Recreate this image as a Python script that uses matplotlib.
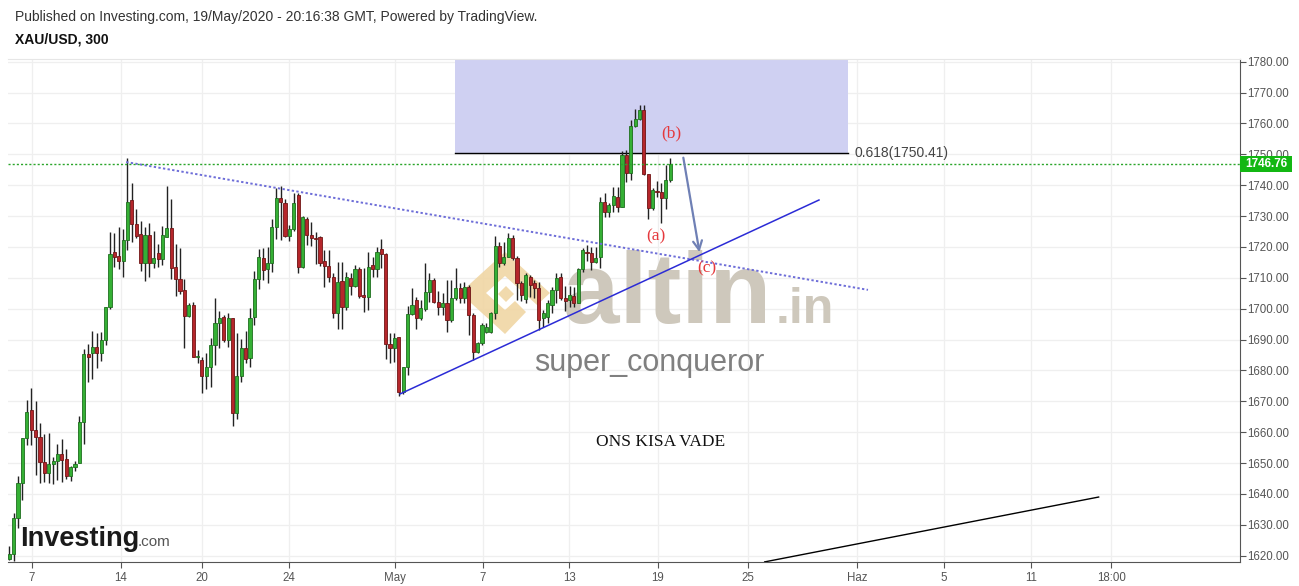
import numpy as np
import matplotlib
matplotlib.use("Agg")
import matplotlib.pyplot as plt
from matplotlib.patches import Rectangle, Polygon
from matplotlib.transforms import blended_transform_factory

plt.rcParams["font.family"] = ["Liberation Sans", "DejaVu Sans"]

# XAU/USD 300-minute candles (open, high, low, close)
opens = [
    1618.8, 1620.4, 1632.3, 1643.4, 1658.0, 1667.2, 1660.7, 1658.3, 1650.5, 1646.9,
    1649.7, 1650.7, 1652.9, 1651.2, 1645.8, 1648.6, 1649.9, 1663.2, 1685.3, 1685.5,
    1687.7, 1685.5, 1689.7, 1700.7, 1718.3, 1717.1, 1715.6, 1722.3, 1735.2, 1727.4,
    1724.2, 1714.9, 1723.9, 1714.7, 1717.9, 1716.0, 1723.3, 1726.0, 1713.6, 1709.5,
    1706.1, 1697.7, 1701.2, 1684.5, 1683.4, 1678.2, 1681.0, 1688.2, 1695.5, 1697.4,
    1689.9, 1696.9, 1666.3, 1678.2, 1687.2, 1683.9, 1697.2, 1709.5, 1716.3, 1712.7,
    1714.7, 1726.3, 1735.7, 1734.1, 1723.5, 1725.7, 1736.8, 1713.4, 1728.9, 1723.9,
    1722.8, 1723.1, 1715.5, 1713.8, 1710.4, 1698.5, 1709.1, 1700.4, 1709.8, 1707.4,
    1712.7, 1704.4, 1703.9, 1714.2, 1712.7, 1719.2, 1717.7, 1688.6, 1687.2, 1690.7,
    1673.1, 1681.2, 1698.3, 1702.8, 1696.9, 1699.8, 1705.5, 1709.3, 1702.3, 1700.7,
    1701.8, 1696.3, 1703.4, 1706.6, 1703.4, 1707.1, 1698.0, 1686.1, 1688.8, 1692.6,
    1692.6, 1698.5, 1720.3, 1714.7, 1716.9, 1722.8, 1716.3, 1708.2, 1703.0, 1710.4,
    1708.2, 1706.6, 1696.9, 1697.4, 1701.2, 1706.1, 1710.2, 1703.4, 1702.8, 1704.1,
    1701.7, 1712.7, 1718.5, 1717.9, 1715.2, 1716.9, 1734.7, 1731.4, 1733.6, 1736.3,
    1733.0, 1749.8, 1743.8, 1759.2, 1761.3, 1764.4, 1743.6, 1732.5, 1738.2, 1737.9,
    1735.7, 1741.7,
]
highs = [
    1623.1, 1633.7, 1645.8, 1658.0, 1670.4, 1674.2, 1670.2, 1663.1, 1659.4, 1659.6,
    1652.1, 1656.1, 1657.7, 1654.4, 1649.1, 1650.8, 1665.4, 1686.8, 1688.6, 1692.9,
    1692.2, 1692.6, 1700.7, 1725.0, 1724.4, 1726.6, 1725.7, 1748.7, 1740.8, 1732.2,
    1728.5, 1726.6, 1727.9, 1725.3, 1721.0, 1726.8, 1739.7, 1735.4, 1721.0, 1719.5,
    1709.5, 1701.9, 1702.3, 1686.6, 1684.5, 1685.5, 1690.4, 1703.4, 1699.4, 1697.9,
    1698.5, 1696.9, 1692.2, 1690.1, 1692.9, 1700.1, 1712.3, 1719.2, 1719.5, 1720.1,
    1728.9, 1739.0, 1739.7, 1735.4, 1727.1, 1737.4, 1737.4, 1730.0, 1729.6, 1728.2,
    1725.0, 1723.5, 1719.0, 1719.0, 1711.5, 1715.2, 1715.2, 1712.0, 1711.5, 1714.2,
    1713.6, 1713.1, 1718.5, 1716.9, 1720.1, 1722.5, 1717.9, 1692.0, 1692.0, 1690.9,
    1681.2, 1700.9, 1706.6, 1703.9, 1702.8, 1714.7, 1711.7, 1709.8, 1705.8, 1705.0,
    1709.3, 1709.3, 1713.1, 1708.4, 1708.8, 1707.7, 1698.5, 1689.3, 1695.3, 1695.3,
    1699.0, 1723.5, 1721.7, 1721.7, 1724.4, 1723.9, 1717.0, 1709.0, 1711.5, 1710.9,
    1709.3, 1708.8, 1699.6, 1702.8, 1707.1, 1711.7, 1711.5, 1707.3, 1707.3, 1707.1,
    1713.1, 1719.5, 1720.6, 1720.1, 1720.1, 1736.3, 1737.4, 1734.1, 1739.5, 1739.5,
    1751.2, 1751.4, 1761.1, 1764.6, 1766.0, 1766.0, 1743.6, 1739.0, 1741.4, 1740.8,
    1746.5, 1748.7,
]
lows = [
    1618.5, 1618.4, 1629.1, 1638.0, 1656.0, 1656.0, 1646.1, 1643.7, 1644.0, 1643.7,
    1643.1, 1644.5, 1644.0, 1645.0, 1644.3, 1647.5, 1649.9, 1656.2, 1676.4, 1677.1,
    1680.7, 1683.2, 1688.2, 1699.8, 1713.4, 1713.0, 1710.4, 1719.0, 1721.7, 1722.8,
    1712.3, 1709.1, 1710.4, 1713.1, 1713.4, 1714.2, 1723.1, 1709.5, 1704.1, 1704.8,
    1687.2, 1697.4, 1684.5, 1682.3, 1672.8, 1673.9, 1674.5, 1681.8, 1687.2, 1689.3,
    1687.5, 1662.0, 1664.2, 1676.4, 1682.5, 1681.2, 1694.7, 1706.3, 1709.3, 1708.4,
    1712.0, 1722.5, 1722.2, 1723.3, 1722.0, 1725.3, 1711.7, 1713.1, 1720.6, 1720.3,
    1714.5, 1713.8, 1707.1, 1708.7, 1696.9, 1693.3, 1693.3, 1699.5, 1704.4, 1707.0,
    1703.4, 1699.0, 1699.6, 1710.4, 1710.4, 1713.1, 1683.6, 1682.5, 1682.8, 1671.7,
    1672.4, 1678.5, 1698.0, 1693.3, 1696.3, 1699.4, 1702.3, 1702.0, 1698.0, 1698.0,
    1692.4, 1695.8, 1702.8, 1701.7, 1701.7, 1691.5, 1683.4, 1685.5, 1688.2, 1692.0,
    1692.0, 1696.6, 1713.6, 1714.2, 1716.6, 1715.8, 1702.8, 1702.5, 1701.7, 1703.9,
    1703.4, 1693.1, 1694.2, 1695.3, 1698.5, 1701.7, 1702.8, 1699.4, 1700.6, 1700.6,
    1701.7, 1712.0, 1715.5, 1712.5, 1714.7, 1713.1, 1729.8, 1729.8, 1731.4, 1731.4,
    1733.0, 1741.1, 1741.7, 1758.7, 1761.1, 1743.3, 1728.9, 1732.0, 1736.3, 1727.6,
    1732.2, 1741.1,
]
closes = [
    1620.4, 1632.3, 1643.4, 1658.0, 1666.7, 1660.7, 1658.3, 1650.5, 1646.9, 1649.7,
    1650.7, 1652.9, 1651.0, 1645.8, 1648.6, 1649.7, 1663.2, 1685.3, 1684.2, 1687.7,
    1685.5, 1689.7, 1700.7, 1717.7, 1716.6, 1715.6, 1722.3, 1734.7, 1727.4, 1723.5,
    1714.7, 1723.9, 1714.7, 1716.3, 1716.0, 1723.9, 1726.0, 1713.1, 1709.5, 1705.8,
    1697.7, 1701.2, 1684.5, 1684.8, 1678.2, 1681.0, 1688.2, 1695.5, 1696.9, 1689.9,
    1696.9, 1666.3, 1678.2, 1687.2, 1683.6, 1696.9, 1709.5, 1716.6, 1712.5, 1714.7,
    1726.3, 1735.7, 1734.7, 1723.5, 1725.7, 1734.1, 1713.4, 1729.6, 1723.9, 1722.8,
    1722.6, 1714.7, 1713.8, 1710.4, 1698.5, 1708.8, 1700.4, 1710.2, 1707.4, 1712.7,
    1704.1, 1703.9, 1713.6, 1712.7, 1718.5, 1717.7, 1688.6, 1687.2, 1690.4, 1673.1,
    1681.2, 1698.3, 1701.2, 1696.9, 1700.1, 1705.5, 1709.3, 1702.3, 1700.7, 1701.8,
    1696.3, 1703.4, 1706.6, 1703.4, 1707.1, 1698.0, 1686.1, 1688.8, 1694.7, 1694.2,
    1698.5, 1720.3, 1714.7, 1716.9, 1722.8, 1716.3, 1708.2, 1704.4, 1710.9, 1707.7,
    1706.6, 1696.3, 1698.5, 1701.8, 1706.1, 1709.8, 1703.4, 1702.6, 1704.4, 1701.7,
    1712.7, 1719.0, 1717.9, 1715.2, 1716.3, 1734.7, 1731.4, 1733.6, 1736.5, 1733.0,
    1749.8, 1743.8, 1759.2, 1761.3, 1764.4, 1743.6, 1732.5, 1738.4, 1737.9, 1735.7,
    1741.7, 1746.76,
]

last_price = 1746.76
fib_level = 1750.41

# x axis: candle index positions of the date labels
tick_pos = [5.1, 25.5, 44.1, 63.9, 88.1, 108.2, 127.9, 148.2, 168.8, 193.7, 213.6, 233.5, 251.8]
tick_labels = ["7", "14", "20", "24", "May", "7", "13", "19", "25", "Haz", "5", "11", "18:00"]
price_ticks = list(range(1620, 1790, 10))

# drawings (candle index, price)
fib_box_x = [101.8, 191.6]
down_trend = ([26.7, 196.2], [1747.5, 1706.1])
up_trend = ([89.3, 185.0], [1672.4, 1735.2])
long_line = ([172.6, 248.9], [1618.0, 1639.0])
arrow_from = (153.9, 1749.8)
arrow_to = (157.8, 1717.4)

W, H = 1299, 586
fig = plt.figure(figsize=(W / 100, H / 100), dpi=100)
ax_l, ax_r, ax_t, ax_b = 8, 1240, 59, 562
ax = fig.add_axes([ax_l / W, 1 - ax_b / H, (ax_r - ax_l) / W, (ax_b - ax_t) / H])


def axp(px, py):
    # pixel position -> axes fraction
    return (px - ax_l) / (ax_r - ax_l), (ax_b - py) / (ax_b - ax_t)


ax.set_xlim(-0.3, 281.2)
ax.set_ylim(1617.96, 1780.87)

# grid
for p in price_ticks:
    ax.axhline(p, color="#efefef", lw=0.9, zorder=0)
for t in tick_pos:
    ax.axvline(t, color="#efefef", lw=0.9, zorder=0)

# watermark
logo_c = "#f0d6a4"
cx, cy = 505, 293
ax.add_patch(Polygon([axp(*p) for p in [(cx, cy - 41), (cx + 45, cy), (cx + 32, cy + 12),
                                         (cx, cy - 17), (cx - 19, cy), (cx, cy + 17),
                                         (cx + 10, cy + 8), (cx + 21, cy + 19), (cx, cy + 41),
                                         (cx - 45, cy)]],
                     closed=True, transform=ax.transAxes, facecolor=logo_c, edgecolor="none",
                     alpha=0.9, zorder=0.5))
ax.add_patch(Polygon([axp(*p) for p in [(cx + 1, cy - 7), (cx + 9, cy + 1), (cx + 1, cy + 9),
                                         (cx - 7, cy + 1)]],
                     closed=True, transform=ax.transAxes, facecolor=logo_c, edgecolor="none",
                     alpha=0.9, zorder=0.5))
ax.text(*axp(563, 323), "altin", transform=ax.transAxes, fontsize=73, fontweight="bold",
        color="#cec8bc", ha="left", va="baseline", zorder=0.5)
ax.text(*axp(776, 323), ".in", transform=ax.transAxes, fontsize=36, fontweight="bold",
        color="#cec8bc", ha="left", va="baseline", zorder=0.5)
ax.text(*axp(534, 371), "super_conqueror", transform=ax.transAxes, fontsize=22,
        color="#808080", ha="left", va="baseline", zorder=0.5)

# Fibonacci box
ax.add_patch(Rectangle((fib_box_x[0], fib_level), fib_box_x[1] - fib_box_x[0], 40,
                       facecolor="#cfd0f2", edgecolor="none", zorder=1))
ax.plot(fib_box_x, [fib_level, fib_level], color="black", lw=1, zorder=1.5)
ax.text(fib_box_x[1] + 1.5, fib_level, f"0.618({fib_level:.2f})", fontsize=10,
        color="#444444", ha="left", va="center")

# candles
idx = np.arange(len(closes))
o = np.array(opens)
c = np.array(closes)
up = c >= o
ax.vlines(idx, lows, highs, color="#222222", lw=1, zorder=2)
body = np.maximum(np.abs(c - o), 0.3)
bottom = np.minimum(o, c)
ax.bar(idx[up], body[up], bottom=bottom[up], width=0.72, color="#35b035",
       edgecolor="#1e6e1e", lw=0.6, zorder=3)
ax.bar(idx[~up], body[~up], bottom=bottom[~up], width=0.72, color="#b5262b",
       edgecolor="#701515", lw=0.6, zorder=3)

# trend lines
ax.plot(*down_trend, color="#6d6dd8", lw=1.4, ls=(0, (1.2, 1.2)), zorder=4)
ax.plot(*up_trend, color="#2b2bd6", lw=1.1, zorder=4)
ax.plot(*long_line, color="black", lw=1, zorder=4)
ax.annotate("", xy=arrow_to, xytext=arrow_from,
            arrowprops=dict(arrowstyle="->", color="#6f80b5", lw=1.6, mutation_scale=16),
            zorder=5)

# last price
ax.axhline(last_price, color="#2aa52a", lw=1, ls=(0, (1.5, 1.5)), zorder=4)
tr = blended_transform_factory(ax.transAxes, ax.transData)
ax.add_patch(Rectangle((1.0, last_price - 2.6), 52 / (ax_r - ax_l), 5.2, transform=tr,
                       facecolor="#13b713", edgecolor="none", clip_on=False, zorder=6))
ax.text(1.0 + 26 / (ax_r - ax_l), last_price, f"{last_price:.2f}", transform=tr,
        fontsize=8.5, fontweight="bold", color="white", ha="center", va="center",
        clip_on=False, zorder=7)

# wave labels
wave_font = dict(family=["Liberation Serif", "DejaVu Serif"], fontsize=12.5, color="#e5383c",
                 ha="left", va="center", zorder=6)
ax.text(148.9, 1756.9, "(b)", **wave_font)
ax.text(145.5, 1723.5, "(a)", **wave_font)
ax.text(157.3, 1712.9, "(c)", **wave_font)
ax.text(134.0, 1655.5, "ONS KISA VADE", family=["Liberation Serif", "DejaVu Serif"],
        fontsize=12.5, color="#111111", ha="left", va="baseline", zorder=6)

# axes styling
ax.spines["left"].set_visible(False)
ax.spines["top"].set_color("#e6e6e6")
ax.spines["right"].set_color("#555555")
ax.spines["bottom"].set_color("#555555")
ax.yaxis.tick_right()
ax.set_yticks(price_ticks)
ax.set_yticklabels([f"{p:.2f}" for p in price_ticks])
ax.set_xticks(tick_pos)
ax.set_xticklabels(tick_labels)
ax.tick_params(axis="y", length=4, color="#555555", labelcolor="#555555", labelsize=8.3, pad=1.5)
ax.tick_params(axis="x", length=4, color="#555555", labelcolor="#555555", labelsize=8.3, pad=3)

# header and logo
fig.text(15 / W, 1 - 17 / H, "Published on Investing.com, 19/May/2020 - 20:16:38 GMT, Powered by TradingView.",
         fontsize=10, color="#333333", ha="left", va="center")
fig.text(15 / W, 1 - 40 / H, "XAU/USD, 300", fontsize=10, fontweight="bold",
         color="#111111", ha="left", va="center")
fig.text(20 / W, 1 - 546 / H, "Investing", fontsize=19.5, fontweight="bold",
         color="#1a1a1a", ha="left", va="baseline", zorder=8)
fig.text(138 / W, 1 - 546 / H, ".com", fontsize=11, color="#555555",
         ha="left", va="baseline", zorder=8)

fig.savefig("out.png", dpi=100)
